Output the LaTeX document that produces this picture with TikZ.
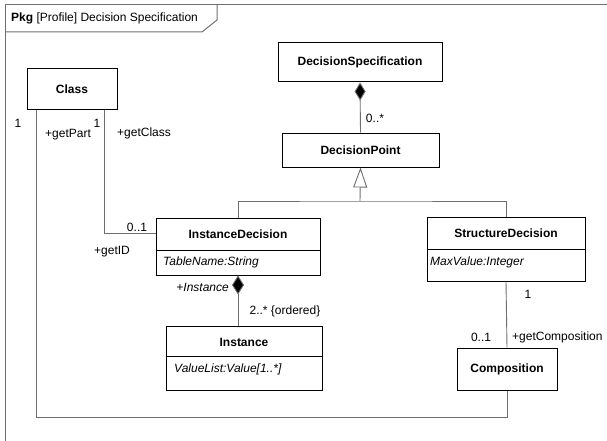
\documentclass[tikz,border=0pt]{standalone}
\usepackage{fontspec}
\setmainfont{Liberation Sans}
\usetikzlibrary{arrows.meta,positioning}
\definecolor{linegray}{HTML}{6E6E6E}

\tikzset{
  umlbox/.style={draw=black,line width=1pt,fill=white,inner sep=0pt},
  umltitle/.style={inner sep=0pt,font=\fontsize{12}{14}\selectfont\bfseries},
  umlattr/.style={inner sep=0pt,anchor=west,font=\fontsize{12}{14}\selectfont\itshape},
  conn/.style={draw=linegray,line width=0.9pt},
  mult/.style={inner sep=0pt,font=\fontsize{12}{14}\selectfont},
}

\begin{document}
\begin{tikzpicture}[x=1pt,y=-1pt]
\useasboundingbox (0,0) rectangle (607,441);
% frame
\draw[linegray,line width=1pt] (5,441) -- (5,5) -- (607,5);
\draw[linegray,line width=1pt] (5,32) -- (202,32) -- (217,20) -- (217,5);
\node[mult,anchor=west] (frametitle) at (11,18.5) {\textbf{Pkg} [Profile] Decision Specification};
% boxes
\node[umlbox,minimum width=90pt,minimum height=41pt] (Class) at (72,89.5) {};
\node[umltitle] (Class-name) at (Class) {Class};
\node[umlbox,minimum width=164pt,minimum height=39pt] (DecisionSpecification) at (360,62.5) {};
\node[umltitle] (DecisionSpecification-name) at (DecisionSpecification) {DecisionSpecification};
\node[umlbox,minimum width=157pt,minimum height=34pt] (DecisionPoint) at (360.5,150) {};
\node[umltitle] (DecisionPoint-name) at (DecisionPoint) {DecisionPoint};
\node[umlbox,minimum width=164pt,minimum height=57pt] (InstanceDecision) at (238,246.5) {};
\node[umltitle] (InstanceDecision-name) at (238,234) {InstanceDecision};
\draw[line width=0.8pt] (InstanceDecision.west |- 0,250) -- (InstanceDecision.east |- 0,250);
\node[umlattr] (InstanceDecision-attr) at (163,262.5) {TableName:String};
\node[umlbox,minimum width=158pt,minimum height=64pt] (StructureDecision) at (506,249) {};
\node[umltitle] (StructureDecision-name) at (506,233.5) {StructureDecision};
\draw[line width=0.8pt] (StructureDecision.west |- 0,249) -- (StructureDecision.east |- 0,249);
\node[umlattr] (StructureDecision-attr) at (430,262.5) {MaxValue:Integer};
\node[umlbox,minimum width=156pt,minimum height=64pt] (Instance) at (244,358) {};
\node[umltitle] (Instance-name) at (244,342) {Instance};
\draw[line width=0.8pt] (Instance.west |- 0,356) -- (Instance.east |- 0,356);
\node[umlattr] (Instance-attr) at (174,369.5) {ValueList:Value[1..*]};
\node[umlbox,minimum width=100pt,minimum height=42pt] (Composition) at (507,369) {};
\node[umltitle] (Composition-name) at (Composition) {Composition};
% composition DecisionSpecification - DecisionPoint
\draw[conn,{Diamond[length=18pt,width=11pt,fill=black]}-] (DecisionSpecification.south) -- (DecisionPoint.north);
\node[mult] (dp-mult) at (375,118) {0..*};
% generalization
\coordinate (genbar) at (360,201);
\draw[conn] (InstanceDecision.north) |- (genbar) -| (StructureDecision.north);
\draw[conn,-{Triangle[open,length=20pt,width=14pt,fill=white]}] (genbar) -- (DecisionPoint.south);
% Class - InstanceDecision
\draw[conn] ([xshift=32pt]Class.south) |- ([yshift=13.5pt]InstanceDecision.west);
\node[mult] (cls-mult1) at (97,123) {1};
\node[mult] (cls-getclass) at (144,133) {+getClass};
\node[mult] (id-mult) at (137,227) {0..1};
\node[mult] (id-getid) at (112,252) {+getID};
% Class - Composition
\draw[conn] ([xshift=-36pt]Class.south) -- ([xshift=-36pt]Class.south |- 0,417) -| (Composition.south);
\node[mult] (cls-mult2) at (18,123) {1};
\node[mult] (cls-getpart) at (68,135) {+getPart};
% InstanceDecision - Instance
\draw[conn,{Diamond[length=19pt,width=12pt,fill=black]}-] (InstanceDecision.south) -- ([xshift=-6pt]Instance.north);
\node[mult,anchor=east] (inst-role) at (229,287) {\itshape +Instance};
\node[mult] (inst-mult) at (285,311) {2..* \{ordered\}};
% StructureDecision - Composition
\draw[conn] (StructureDecision.south) -- (Composition.north);
\node[mult] (sd-mult) at (528,294) {1};
\node[mult] (comp-mult) at (481,337) {0..1};
\node[mult,anchor=west] (comp-get) at (512,337) {+getComposition};
\end{tikzpicture}
\end{document}
